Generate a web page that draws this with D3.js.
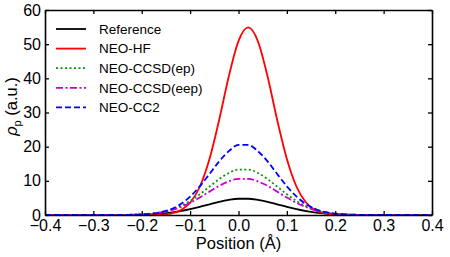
<!DOCTYPE html>
<html>
<head>
<meta charset="utf-8">
<script src="https://cdn.jsdelivr.net/npm/d3@7"></script>
<style>
  body { margin: 0; background: #fff; }
  text { font-family: "Liberation Sans", Arial, sans-serif; fill: #000; }
</style>
</head>
<body>
<div class="chart"></div>
<script>
// positions (Å), one sample every 0.02
var positions = [-0.40, -0.38, -0.36, -0.34, -0.32, -0.30, -0.28, -0.26, -0.24, -0.22,
  -0.20, -0.18, -0.16, -0.14, -0.12, -0.10, -0.08, -0.06, -0.04, -0.02,
  0.00, 0.02, 0.04, 0.06, 0.08, 0.10, 0.12, 0.14, 0.16, 0.18,
  0.20, 0.22, 0.24, 0.26, 0.28, 0.30, 0.32, 0.34, 0.36, 0.38, 0.40];

var reference = [0, 0, 0, 0, 0, 0, 0, 0.01, 0.02, 0.05,
  0.11, 0.21, 0.39, 0.68, 1.11, 1.69, 2.38, 3.14, 3.87, 4.44,
  4.76, 4.76, 4.44, 3.87, 3.14, 2.38, 1.69, 1.11, 0.68, 0.39,
  0.21, 0.11, 0.05, 0.02, 0.01, 0, 0, 0, 0, 0, 0];

var neoHF = [0, 0, 0, 0, 0, 0, 0, 0, 0, 0,
  0.006, 0.03, 0.12, 0.43, 1.35, 3.60, 8.27, 16.4, 27.8, 40.6,
  50.9, 54.9, 50.9, 40.6, 27.8, 16.4, 8.27, 3.60, 1.35, 0.43,
  0.12, 0.03, 0.006, 0, 0, 0, 0, 0, 0, 0, 0];

var ccsdEp = [0, 0, 0, 0, 0, 0, 0, 0.01, 0.03, 0.08,
  0.18, 0.39, 0.79, 1.48, 2.57, 4.10, 6.07, 8.30, 10.5, 12.3,
  13.3, 13.3, 12.3, 10.5, 8.30, 6.07, 4.10, 2.57, 1.48, 0.79,
  0.39, 0.18, 0.08, 0.03, 0.01, 0, 0, 0, 0, 0, 0];

var ccsdEep = [0, 0, 0, 0, 0, 0, 0, 0.01, 0.04, 0.09,
  0.19, 0.40, 0.76, 1.37, 2.29, 3.54, 5.10, 6.84, 8.52, 9.85,
  10.6, 10.6, 9.85, 8.52, 6.84, 5.10, 3.54, 2.29, 1.37, 0.76,
  0.40, 0.19, 0.09, 0.04, 0.01, 0, 0, 0, 0, 0, 0];

var cc2 = [0, 0, 0, 0, 0, 0, 0, 0.01, 0.02, 0.06,
  0.15, 0.37, 0.83, 1.69, 3.15, 5.38, 8.40, 12.0, 15.7, 18.7,
  20.5, 20.5, 18.7, 15.7, 12.0, 8.40, 5.38, 3.15, 1.69, 0.83,
  0.37, 0.15, 0.06, 0.02, 0, 0, 0, 0, 0, 0, 0];

var seriesNames = ["Reference", "NEO-HF", "NEO-CCSD(ep)", "NEO-CCSD(eep)", "NEO-CC2"];
var seriesValues = [reference, neoHF, ccsdEp, ccsdEep, cc2];

var xTicks = [-0.4, -0.3, -0.2, -0.1, 0.0, 0.1, 0.2, 0.3, 0.4];
var yTicks = [0, 10, 20, 30, 40, 50, 60];

// line styles per series
var colors = ["#000000", "#ff0000", "#009900", "#cc00cc", "#0000ff"];
var dashes = [null, null, "2,2.5", "7,2.5,2,2.5", "6,3"];

var svgWidth = 450;
var svgHeight = 257;

var margin = { top: 10, right: 18, bottom: 42, left: 45 };

var width = svgWidth - margin.left - margin.right;
var height = svgHeight - margin.top - margin.bottom;

var svg = d3.select(".chart")
  .append("svg")
  .attr("width", svgWidth)
  .attr("height", svgHeight);

var chartGroup = svg.append("g")
  .attr("transform", `translate(${margin.left}, ${margin.top})`);

var xLinearScale = d3.scaleLinear().domain([-0.4, 0.4]).range([0, width]);
var yLinearScale = d3.scaleLinear().domain([0, 60]).range([height, 0]);

// curves
var line = d3.line()
  .x((d, i) => xLinearScale(positions[i]))
  .y(d => yLinearScale(d))
  .curve(d3.curveMonotoneX);

svg.append("clipPath").attr("id", "plotClip")
  .append("rect").attr("width", width).attr("height", height);

seriesValues.forEach(function (vals, k) {
  chartGroup.append("path")
    .datum(vals)
    .attr("d", line)
    .attr("fill", "none")
    .attr("stroke", colors[k])
    .attr("stroke-width", 1.8)
    .attr("stroke-dasharray", dashes[k])
    .attr("clip-path", "url(#plotClip)");
});

// axes, ticks pointing inward on all four sides
var fmtX = d => d3.format(".1f")(d).replace("-", "\u2212");

var bottomAxis = d3.axisBottom(xLinearScale).tickValues(xTicks).tickSizeInner(-4).tickSizeOuter(0).tickPadding(5).tickFormat(fmtX);
var topAxis = d3.axisTop(xLinearScale).tickValues(xTicks).tickSizeInner(-4).tickSizeOuter(0).tickFormat("");
var leftAxis = d3.axisLeft(yLinearScale).tickValues(yTicks).tickSizeInner(-4).tickSizeOuter(0).tickPadding(4);
var rightAxis = d3.axisRight(yLinearScale).tickValues(yTicks).tickSizeInner(-4).tickSizeOuter(0).tickFormat("");

var axes = [
  chartGroup.append("g").attr("transform", `translate(0, ${height})`).call(bottomAxis),
  chartGroup.append("g").call(topAxis),
  chartGroup.append("g").call(leftAxis),
  chartGroup.append("g").attr("transform", `translate(${width}, 0)`).call(rightAxis)
];

axes.forEach(function (a) {
  a.select(".domain").attr("stroke", "#000").attr("stroke-width", 1.6);
  a.selectAll(".tick line").attr("stroke", "#000").attr("stroke-width", 1.3);
  a.selectAll(".tick text")
    .style("font-family", "'Liberation Sans', Arial, sans-serif")
    .style("font-size", "16px")
    .attr("fill", "#000");
});

// axis labels
chartGroup.append("text")
  .attr("x", width / 2)
  .attr("y", height + 33.5)
  .attr("text-anchor", "middle")
  .style("font-size", "16.5px")
  .text("Position (Å)");

var yLabel = chartGroup.append("text")
  .attr("transform", "rotate(-90)")
  .attr("x", -(height / 2) + 6)
  .attr("y", -28)
  .attr("text-anchor", "middle")
  .style("font-size", "16.5px");
yLabel.append("tspan").style("font-style", "italic").text("ρ");
yLabel.append("tspan").attr("dy", 4).style("font-size", "11px").text("p");
yLabel.append("tspan").attr("dy", -4).text(" (a.u.)");

// legend
var legend = chartGroup.append("g").attr("transform", "translate(11, 19)");
seriesNames.forEach(function (name, k) {
  var row = legend.append("g").attr("transform", `translate(0, ${k * 19.6})`);
  row.append("line")
    .attr("x1", 0).attr("x2", 30)
    .attr("stroke", colors[k])
    .attr("stroke-width", 1.8)
    .attr("stroke-dasharray", dashes[k]);
  row.append("text")
    .attr("x", 43)
    .attr("dy", "0.35em")
    .style("font-size", "13.5px")
    .text(name);
});
</script>
</body>
</html>
